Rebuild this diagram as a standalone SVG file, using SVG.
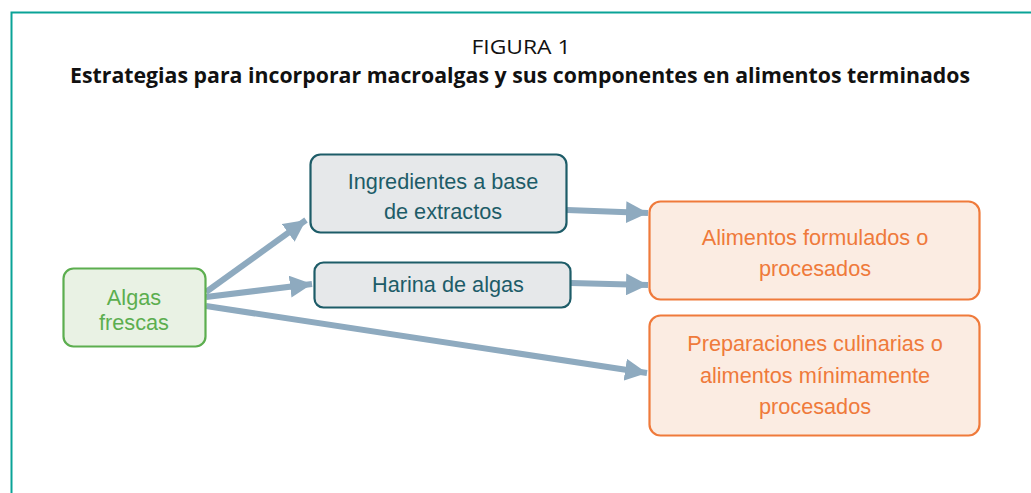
<svg xmlns="http://www.w3.org/2000/svg" width="1031" height="493" viewBox="0 0 1031 493">
<style>
.t{font-family:"Liberation Sans",Arial,sans-serif;font-size:21.7px;text-anchor:middle}
.g rect{fill:#e6e8ea;stroke:#1d5c68;stroke-width:2.2}
.g text{fill:#1d5c68}
.o rect{fill:#fbece2;stroke:#ef7a3b;stroke-width:2.2}
.o text{fill:#ef7a3b}
.conn line{stroke:#8eaabf;stroke-width:6;fill:none}
</style>
<defs>
<marker id="ah" markerUnits="userSpaceOnUse" markerWidth="24" markerHeight="22" refX="22" refY="11" orient="auto">
<path d="M0,0 L22,11 L0,22 Z" fill="#8eaabf"/>
</marker>
</defs>
<rect width="1031" height="493" fill="#fff"/>
<path d="M11.5,493 V12.5 H1031" fill="none" stroke="#0aa397" stroke-width="2"/>
<text x="521" y="54" font-family="'Open Sans','Liberation Sans',sans-serif" font-size="20" textLength="99" lengthAdjust="spacingAndGlyphs" text-anchor="middle" fill="#111">FIGURA 1</text>
<text x="520" y="83" font-family="'Open Sans','Liberation Sans',sans-serif" font-size="20.5" font-weight="bold" textLength="900" lengthAdjust="spacingAndGlyphs" text-anchor="middle" fill="#111">Estrategias para incorporar macroalgas y sus componentes en alimentos terminados</text>
<g class="conn">
<line x1="206" y1="292" x2="306" y2="220" marker-end="url(#ah)"/>
<line x1="206" y1="297" x2="312" y2="284" marker-end="url(#ah)"/>
<line x1="206" y1="306" x2="647" y2="373" marker-end="url(#ah)"/>
<line x1="567" y1="210" x2="648" y2="213" marker-end="url(#ah)"/>
<line x1="571" y1="283" x2="648" y2="285" marker-end="url(#ah)"/>
</g>
<g id="algas">
<rect x="63.5" y="268.5" width="142" height="78" rx="10" fill="#e9f2e4" stroke="#5cae4f" stroke-width="2.2"/>
<text class="t" fill="#5cae4f"><tspan x="134" y="305">Algas</tspan><tspan x="134" y="330">frescas</tspan></text>
</g>
<g id="ingredientes" class="g">
<rect x="310.5" y="154.5" width="256" height="78" rx="10"/>
<text class="t"><tspan x="443" y="189">Ingredientes a base</tspan><tspan x="443" y="219">de extractos</tspan></text>
</g>
<g id="harina" class="g">
<rect x="314.5" y="262.5" width="256" height="45" rx="9"/>
<text class="t" x="448" y="292">Harina de algas</text>
</g>
<g id="formulados" class="o">
<rect x="649.5" y="201.5" width="330" height="98" rx="11"/>
<text class="t"><tspan x="815" y="245">Alimentos formulados o</tspan><tspan x="815" y="276">procesados</tspan></text>
</g>
<g id="preparaciones" class="o">
<rect x="649.5" y="315.5" width="330" height="120" rx="11"/>
<text class="t"><tspan x="815" y="351">Preparaciones culinarias o</tspan><tspan x="815" y="383">alimentos mínimamente</tspan><tspan x="815" y="414">procesados</tspan></text>
</g>
</svg>
